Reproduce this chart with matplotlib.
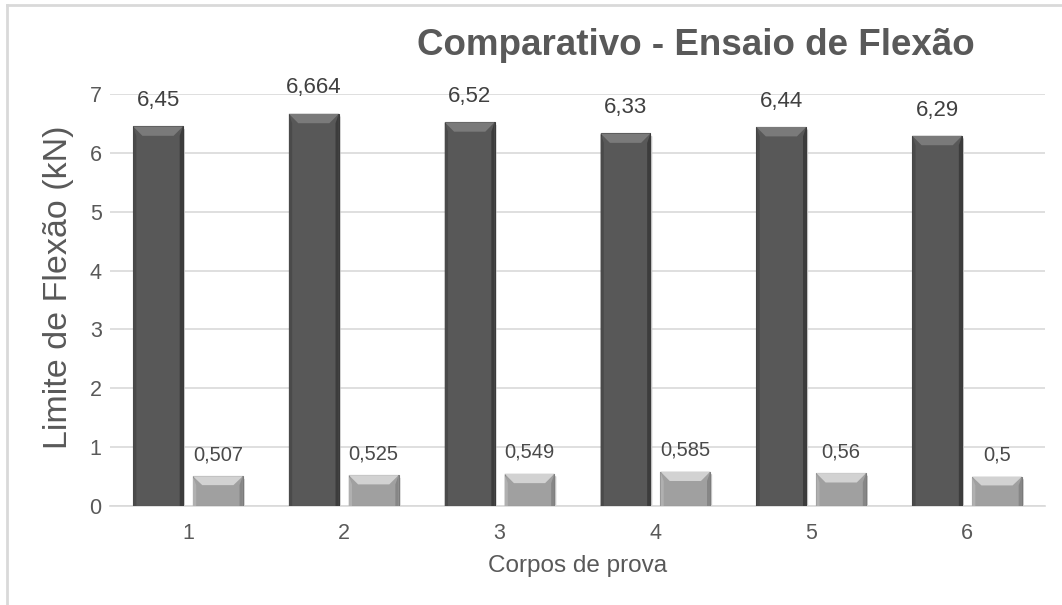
import matplotlib.pyplot as plt
from matplotlib.patches import Polygon
from matplotlib.lines import Line2D
import numpy as np

plt.rcParams['font.family'] = ['Liberation Sans', 'DejaVu Sans']

# Dados do ensaio
corpos = ['1', '2', '3', '4', '5', '6']
serie_a = [6.45, 6.664, 6.52, 6.33, 6.44, 6.29]
serie_b = [0.507, 0.525, 0.549, 0.585, 0.56, 0.5]

cinza_txt = '#595959'

fig = plt.figure(figsize=(10.62, 6.05), dpi=100)
ax = fig.add_axes([0.1036, 0.1636, 0.8804, 0.681])

x = np.arange(len(corpos))
larg = 0.32
gap = 0.064
pos_a = x - (larg + gap) / 2
pos_b = x + (larg + gap) / 2

ax.set_xlim(-0.5, len(corpos) - 0.5)
ax.set_ylim(0, 7)

# tamanho do chanfro em unidades de dados
dx = 0.06
dy = 0.16


def barra_chanfrada(xc, h, face, topo, lado_e, lado_d, borda):
    x0 = xc - larg / 2
    x1 = xc + larg / 2
    ax.bar(xc, h, width=larg, color=face, edgecolor=borda, linewidth=0.8, zorder=3)
    e = min(dy, h * 0.3)
    # topo
    ax.add_patch(Polygon([(x0, h), (x1, h), (x1 - dx, h - e), (x0 + dx, h - e)],
                         closed=True, facecolor=topo, edgecolor='none', zorder=4))
    # lado esquerdo
    ax.add_patch(Polygon([(x0, h), (x0 + dx * 0.35, h - e), (x0 + dx * 0.35, 0), (x0, 0)],
                         closed=True, facecolor=lado_e, edgecolor='none', zorder=4))
    # lado direito
    ax.add_patch(Polygon([(x1, h), (x1 - dx * 0.35, h - e), (x1 - dx * 0.35, 0), (x1, 0)],
                         closed=True, facecolor=lado_d, edgecolor='none', zorder=4))
    # sombra
    ax.add_patch(Polygon([(x1, h - 0.03), (x1 + 0.012, h - 0.05), (x1 + 0.012, 0), (x1, 0)],
                         closed=True, facecolor='#c8c8c8', edgecolor='none', zorder=2))


for xc, h in zip(pos_a, serie_a):
    barra_chanfrada(xc, h, '#585858', '#7a7a7a', '#4a4a4a', '#3c3c3c', '#3a3a3a')
    ax.text(xc, h + 0.26, f'{h:g}'.replace('.', ','), ha='center', va='bottom',
            fontsize=16, color='#404040', zorder=5)

for xc, h in zip(pos_b, serie_b):
    barra_chanfrada(xc, h, '#a0a0a0', '#d2d2d2', '#b0b0b0', '#868686', '#7a7a7a')
    ax.text(xc, h + 0.2, f'{h:g}'.replace('.', ','), ha='center', va='bottom',
            fontsize=14.5, color='#4a4a4a', zorder=5)

# grade e eixos
ax.set_yticks(range(0, 8))
ax.yaxis.grid(True, color='#d9d9d9', linewidth=1.2, zorder=0)
ax.set_axisbelow(True)
for s in ['top', 'right', 'left']:
    ax.spines[s].set_visible(False)
ax.spines['bottom'].set_color('#d9d9d9')
ax.spines['bottom'].set_linewidth(1.2)
ax.set_xticks(x)
ax.set_xticklabels(corpos)
ax.tick_params(axis='both', length=0, labelsize=15.5, labelcolor=cinza_txt)
ax.tick_params(axis='y', pad=6)
ax.tick_params(axis='x', pad=12)

ax.set_ylabel('Limite de Flexão (kN)', fontsize=24.5, color=cinza_txt)
ax.yaxis.set_label_coords(-0.039, 0.532)
ax.set_xlabel('Corpos de prova', fontsize=17.5, color=cinza_txt, labelpad=8)

fig.text(0.655, 0.925, 'Comparativo - Ensaio de Flexão', ha='center', va='center',
         fontsize=26.5, fontweight='bold', color=cinza_txt)

# moldura do gráfico
fig.add_artist(Line2D([7 / 1062, 1], [1 - 5 / 605, 1 - 5 / 605], color='#d9d9d9',
                      linewidth=2, transform=fig.transFigure))
fig.add_artist(Line2D([7 / 1062, 7 / 1062], [0, 1 - 5 / 605], color='#d9d9d9',
                      linewidth=2, transform=fig.transFigure))

fig.savefig('out.png', dpi=100)
